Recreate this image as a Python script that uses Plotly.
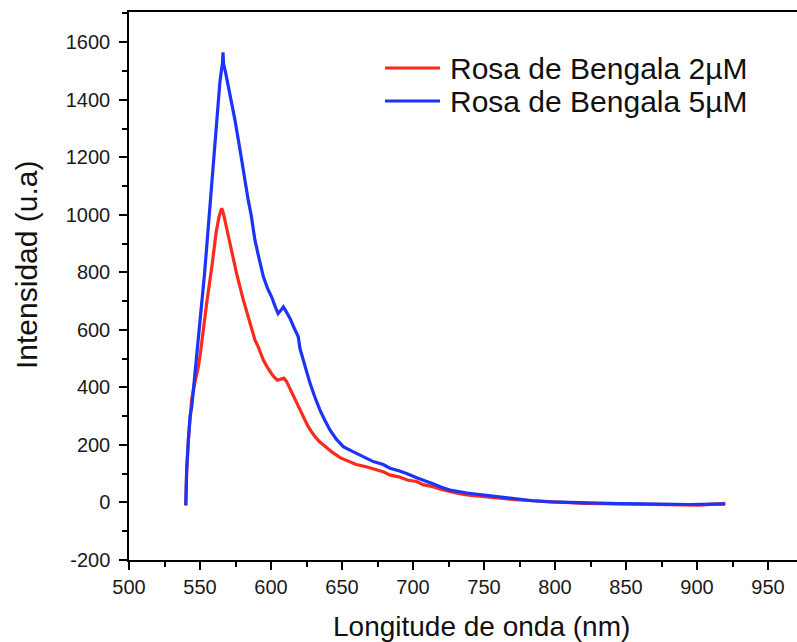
import plotly.graph_objects as go

# ---- data ----
red_nm = [540.0, 540.6, 541.8, 543.0, 544.1, 546.5, 548.8, 550.3, 552.0, 554.9, 558.5, 561.4, 563.5,
          565.3, 566.5, 568.5, 571.0, 575.7, 580.5, 585.0, 588.7, 591.0, 594.6, 598.0, 601.5, 604.5,
          607.0, 609.0, 611.0, 613.5, 616.5, 619.5, 622.5, 626.0, 630.0, 634.0, 637.0, 643.0, 649.0,
          655.0, 660.0, 667.0, 672.0, 679.0, 684.0, 690.0, 696.0, 702.6, 707.0, 714.0, 720.0, 726.0,
          732.0, 738.0, 750.0, 761.0, 772.0, 784.5, 796.0, 808.0, 820.0, 835.0, 855.0, 870.0, 885.0,
          902.0, 912.0, 920.0]
red_int = [-10, 110, 217, 300, 356, 420, 470, 520, 590, 700, 825, 940, 995,
           1023, 1005, 960, 912, 797, 704, 623, 565, 541, 495, 465, 440, 425,
           428, 432, 420, 395, 360, 330, 300, 265, 235, 212, 200, 175, 155,
           143, 132, 124, 117, 107, 95, 89, 78, 73, 62, 55, 45, 37,
           31, 26, 20, 14, 10, 6, 3, -1, -3, -4, -6, -7, -8,
           -9, -6, -3]

blue_nm = [540.0, 540.6, 541.8, 543.0, 544.2, 546.5, 548.8, 551.2, 553.2, 555.1, 557.0, 558.7, 560.5,
           562.2, 564.0, 565.3, 565.8, 566.2, 566.6, 568.0, 571.0, 574.6, 578.2, 581.7, 584.0, 586.0,
           588.7, 591.5, 594.6, 597.5, 600.4, 603.0, 605.0, 607.0, 608.7, 610.5, 613.4, 616.0, 619.2,
           620.4, 624.0, 627.5, 631.0, 634.5, 638.0, 641.5, 646.0, 650.9, 655.6, 660.3, 666.0, 672.0,
           679.0, 683.8, 690.0, 695.5, 702.6, 707.3, 714.0, 720.0, 726.0, 738.0, 749.5, 761.0, 773.0,
           784.5, 796.5, 808.0, 820.0, 831.7, 845.0, 860.0, 878.6, 895.0, 910.0, 919.7]
blue_int = [-10, 110, 217, 300, 333, 449, 565, 680, 795, 912, 1030, 1144, 1260,
            1376, 1460, 1510, 1525, 1565, 1525, 1495, 1420, 1330, 1225, 1110, 1050, 1000,
            912, 850, 785, 745, 715, 680, 657, 668, 680, 665, 640, 610, 576,
            535, 470, 414, 365, 321, 285, 252, 220, 194, 182, 171, 155, 142,
            132, 119, 110, 101, 86, 78, 65, 53, 43, 33, 26, 18, 11,
            6, 2, 0, -2, -3, -4, -5, -7, -7, -6, -6]

series_names = ["Rosa de Bengala 2\u00b5M", "Rosa de Bengala 5\u00b5M"]
series_colors = ["#fa2a1c", "#1c33f8"]

x_ticks = [500, 550, 600, 650, 700, 750, 800, 850, 900, 950]
x_ticktext = ["500", "550", "600", "650", "700", "750", "800", "850", "900", "950"]
y_ticks = [-200, 0, 200, 400, 600, 800, 1000, 1200, 1400, 1600]
y_ticktext = ["-200", "0", "200", "400", "600", "800", "1000", "1200", "1400", "1600"]

FONT = "Liberation Sans, Arial, sans-serif"
W, H = 797, 642
L, R, T, B = 129, 0, 12, 82
pw, ph = W - L - R, H - T - B

def px2paper_x(px):
    return (px - L) / pw

def px2paper_y(py):
    return (H - B - py) / ph

fig = go.Figure()
fig.add_trace(go.Scatter(x=red_nm, y=red_int, mode="lines", name=series_names[0],
                         line=dict(color=series_colors[0], width=3.2), showlegend=False))
fig.add_trace(go.Scatter(x=blue_nm, y=blue_int, mode="lines", name=series_names[1],
                         line=dict(color=series_colors[1], width=3.2), showlegend=False))

axis_common = dict(
    showgrid=False, zeroline=False, showline=True, linecolor="black", linewidth=1.5,
    ticks="outside", ticklen=8, tickwidth=1.5, tickcolor="black",
    tickfont=dict(family=FONT, size=20, color="#1a1a1a"),
)
fig.update_xaxes(range=[500, 500 + pw / 1.42], tickvals=x_ticks, ticktext=x_ticktext, mirror=True,
                 minor=dict(dtick=25, ticks="outside", ticklen=5, tickwidth=1.5, tickcolor="black"),
                 **axis_common)
fig.update_yaxes(range=[-200, 1705], tickvals=y_ticks, ticktext=y_ticktext, mirror=False,
                 ticklabelstandoff=5,
                 minor=dict(dtick=100, ticks="outside", ticklen=5, tickwidth=1.5, tickcolor="black"),
                 **axis_common)

annotations = [
    dict(text="Intensidad (u.a)", xref="paper", yref="paper", x=px2paper_x(26), y=px2paper_y(265),
         xanchor="center", yanchor="middle", textangle=-90, showarrow=False,
         font=dict(family=FONT, size=30, color="#111")),
    dict(text="Longitude de onda (nm)", xref="paper", yref="paper", x=px2paper_x(481), y=px2paper_y(626),
         xanchor="center", yanchor="middle", showarrow=False,
         font=dict(family=FONT, size=28, color="#111")),
]
shapes = []
leg_y = [68, 101]
for name, color, ly in zip(series_names, series_colors, leg_y):
    shapes.append(dict(type="line", xref="paper", yref="paper",
                       x0=px2paper_x(385), x1=px2paper_x(440), y0=px2paper_y(ly), y1=px2paper_y(ly),
                       line=dict(color=color, width=3)))
    annotations.append(dict(text=name, xref="paper", yref="paper", x=px2paper_x(448), y=px2paper_y(ly),
                            xanchor="left", yanchor="middle", showarrow=False,
                            font=dict(family=FONT, size=30, color="#111")))

fig.update_layout(
    width=W, height=H, margin=dict(l=L, r=R, t=T, b=B),
    paper_bgcolor="white", plot_bgcolor="white",
    annotations=annotations, shapes=shapes, showlegend=False,
)
fig.write_html("out.html", config={"displayModeBar": False},
               post_script="document.body.style.margin='0px';document.body.style.overflow='hidden';")
